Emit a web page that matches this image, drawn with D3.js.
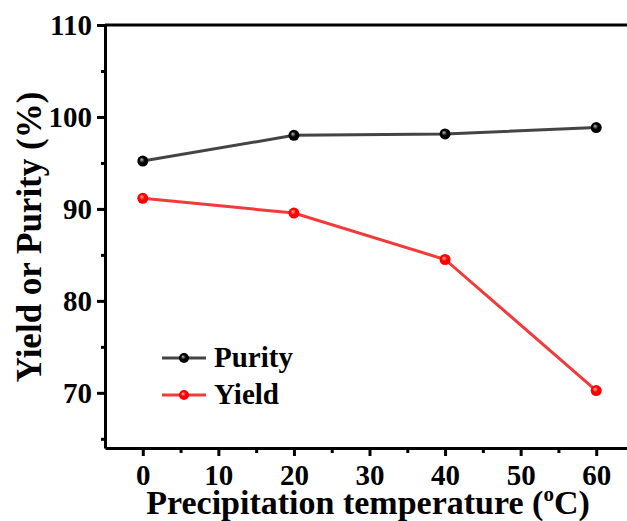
<!DOCTYPE html>
<html><head><meta charset="utf-8">
<script src="https://cdn.jsdelivr.net/npm/d3@7"></script>
<style>body{margin:0;background:#fff}svg{display:block}text{font-family:"Liberation Serif","Times New Roman",serif;font-weight:bold;fill:#000}</style>
</head><body>
<svg id="c" width="627" height="521"></svg>
<script>
const temperatures = [0, 20, 40, 60];
const purity = [95.2, 98.0, 98.15, 98.85];
const yieldVals = [91.15, 89.55, 84.5, 70.25];
const seriesNames = ["Purity", "Yield"];
const xTicks = [0, 10, 20, 30, 40, 50, 60];
const yTicks = [70, 80, 90, 100, 110];
const xTitle = "Precipitation temperature (";
const yTitle = "Yield or Purity (%)";

const svg = d3.select("#c");
const x = d3.scaleLinear().domain([-5, 65]).range([105, 634]);
const y = d3.scaleLinear().domain([64, 110]).range([448, 25]);

const defs = svg.append("defs");
function sphere(id, base, hi) {
  const g = defs.append("radialGradient").attr("id", id).attr("cx", "50%").attr("cy", "50%").attr("r", "55%").attr("fx", "38%").attr("fy", "35%");
  g.append("stop").attr("offset", "0%").attr("stop-color", hi);
  g.append("stop").attr("offset", "45%").attr("stop-color", base);
  g.append("stop").attr("offset", "100%").attr("stop-color", base);
}
sphere("gBlack", "#000", "#bbbbbb");
sphere("gRed", "#ff0000", "#ffb0b0");

// axes
const xAxis = d3.axisBottom(x).tickValues(xTicks).tickSize(8).tickSizeOuter(0);
const gx = svg.append("g").attr("transform", "translate(0,448)").call(xAxis);
gx.select(".domain").attr("stroke-width", 3).attr("stroke", "#000");
gx.selectAll(".tick line").attr("stroke-width", 3);
gx.selectAll(".tick text").style("font-size", "29px").attr("y", 37).attr("dy", 0);
const gxm = svg.append("g").attr("transform", "translate(0,448)")
  .call(d3.axisBottom(x).tickValues(d3.range(5, 65, 10)).tickSize(5).tickSizeOuter(0).tickFormat(""));
gxm.select(".domain").remove();
gxm.selectAll(".tick line").attr("stroke-width", 3);

const yAxis = d3.axisLeft(y).tickValues(yTicks).tickSize(8).tickSizeOuter(0).tickPadding(5);
const gy = svg.append("g").attr("transform", "translate(105,0)").call(yAxis);
gy.select(".domain").attr("stroke-width", 3).attr("stroke", "#000");
gy.selectAll(".tick line").attr("stroke-width", 3);
gy.selectAll(".tick text").style("font-size", "29px");
const gym = svg.append("g").attr("transform", "translate(105,0)")
  .call(d3.axisLeft(y).tickValues([65, 75, 85, 95, 105]).tickSize(4).tickSizeOuter(0).tickFormat(""));
gym.select(".domain").remove();
gym.selectAll(".tick line").attr("stroke-width", 3);

// top frame
svg.append("line").attr("x1", x(-5)).attr("x2", x(65)).attr("y1", y(110)).attr("y2", y(110))
  .attr("stroke", "#000").attr("stroke-width", 3);

// lines
const line = d3.line().x((d, i) => x(temperatures[i])).y(d => y(d));
const series = [
  {name: seriesNames[0], vals: purity, stroke: "#444444", fill: "url(#gBlack)"},
  {name: seriesNames[1], vals: yieldVals, stroke: "#f23a3a", fill: "url(#gRed)"}
];
series.forEach(s => {
  svg.append("path").attr("d", line(s.vals)).attr("fill", "none").attr("stroke", s.stroke).attr("stroke-width", 3);
  svg.selectAll(null).data(s.vals).enter().append("circle")
    .attr("cx", (d, i) => x(temperatures[i])).attr("cy", d => y(d)).attr("r", 5.5).attr("fill", s.fill);
});

// legend
series.forEach((s, i) => {
  const ly = 358 + i * 37;
  svg.append("line").attr("x1", 162).attr("x2", 206).attr("y1", ly).attr("y2", ly).attr("stroke", s.stroke).attr("stroke-width", 3);
  svg.append("circle").attr("cx", 184).attr("cy", ly).attr("r", 5).attr("fill", s.fill);
  svg.append("text").attr("x", 214).attr("y", ly + 9).style("font-size", "29px").text(s.name);
});

// titles
const xt = svg.append("text").attr("x", 368).attr("y", 514).attr("text-anchor", "middle").style("font-size", "34px");
xt.append("tspan").text(xTitle);
xt.append("tspan").attr("dy", -13).style("font-size", "21px").text("o");
xt.append("tspan").attr("dy", 13).text("C)");

svg.append("text").attr("transform", "translate(41,237) rotate(-90)").attr("text-anchor", "middle")
  .style("font-size", "35px").text(yTitle);
</script>
</body></html>
